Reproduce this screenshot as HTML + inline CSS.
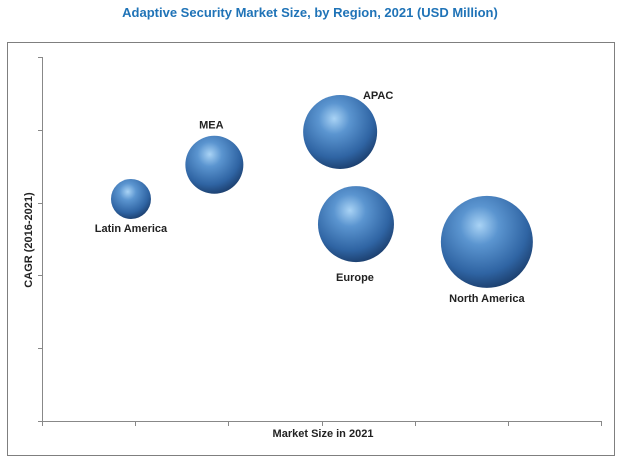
<!DOCTYPE html>
<html><head><meta charset="utf-8"><style>
body{margin:0;background:#fff;font-family:"Liberation Sans",sans-serif}
</style></head><body>
<svg width="621" height="463" xmlns="http://www.w3.org/2000/svg">
<defs>
<radialGradient id="g" cx="0.42" cy="0.32" r="0.7">
<stop offset="0" stop-color="#a9d3f5"/>
<stop offset="0.3" stop-color="#5b95d0"/>
<stop offset="0.75" stop-color="#2f64a3"/>
<stop offset="1" stop-color="#1c3f6e"/>
</radialGradient>
</defs>
<text x="310" y="17" text-anchor="middle" font-size="13" font-weight="bold" fill="#1f73b7">Adaptive Security Market Size, by Region, 2021 (USD Million)</text>
<rect x="7.5" y="42.5" width="607" height="413" fill="none" stroke="#7f7f7f"/>
<g id="axes" stroke="#888" stroke-width="1"></g>
<g id="bubbles"></g>
<text x="323" y="437" text-anchor="middle" font-size="11" font-weight="bold" fill="#222">Market Size in 2021</text>
<text transform="translate(32,240) rotate(-90)" text-anchor="middle" font-size="11" font-weight="bold" fill="#222">CAGR (2016-2021)</text>
</svg>
<script>
const regions=["Latin America","MEA","APAC","Europe","North America"];
const marketSize=[0.955,1.85,3.2,3.37,4.775];
const cagr=[3.05,3.52,3.97,2.705,2.46];
const bubbleSize=[20,29,37,38,46];
const labelDx=[0,-3,38,-1,0];
const labelDy=[33,-36,-33,57,60];
const X0=42,X1=601,Y0=421,Y1=57,XMAX=6,YMAX=5;
const sx=v=>X0+v/XMAX*(X1-X0), sy=v=>Y0-v/YMAX*(Y0-Y1);
const NS="http://www.w3.org/2000/svg";
const axes=document.getElementById('axes');
function ln(x1,y1,x2,y2,name){const l=document.createElementNS(NS,'line');
l.setAttribute('x1',x1);l.setAttribute('y1',y1);l.setAttribute('x2',x2);l.setAttribute('y2',y2);


axes.appendChild(l);}
ln(X0+.5,Y1,X0+.5,Y0+.5,'y-axis');
ln(X0,Y0+.5,X1,Y0+.5,'x-axis');
for(let i=0;i<=YMAX;i++){const y=Math.round(sy(i))+.5;ln(X0-4,y,X0,y,'y-tick');}
for(let i=0;i<=XMAX;i++){const x=Math.round(sx(i))+.5;ln(x,Y0,x,Y0+5,'x-tick');}
const g=document.getElementById('bubbles');
regions.forEach((r,i)=>{
const cx=sx(marketSize[i]),cy=sy(cagr[i]);
const c=document.createElementNS(NS,'circle');
c.setAttribute('cx',cx);c.setAttribute('cy',cy);c.setAttribute('r',bubbleSize[i]);c.setAttribute('fill','url(#g)');


g.appendChild(c);
const t=document.createElementNS(NS,'text');
t.setAttribute('x',cx+labelDx[i]);t.setAttribute('y',cy+labelDy[i]);
t.setAttribute('text-anchor','middle');t.setAttribute('font-size','11');t.setAttribute('font-weight','bold');t.setAttribute('fill','#222');
t.textContent=r;


g.appendChild(t);
});
</script>
</body></html>
